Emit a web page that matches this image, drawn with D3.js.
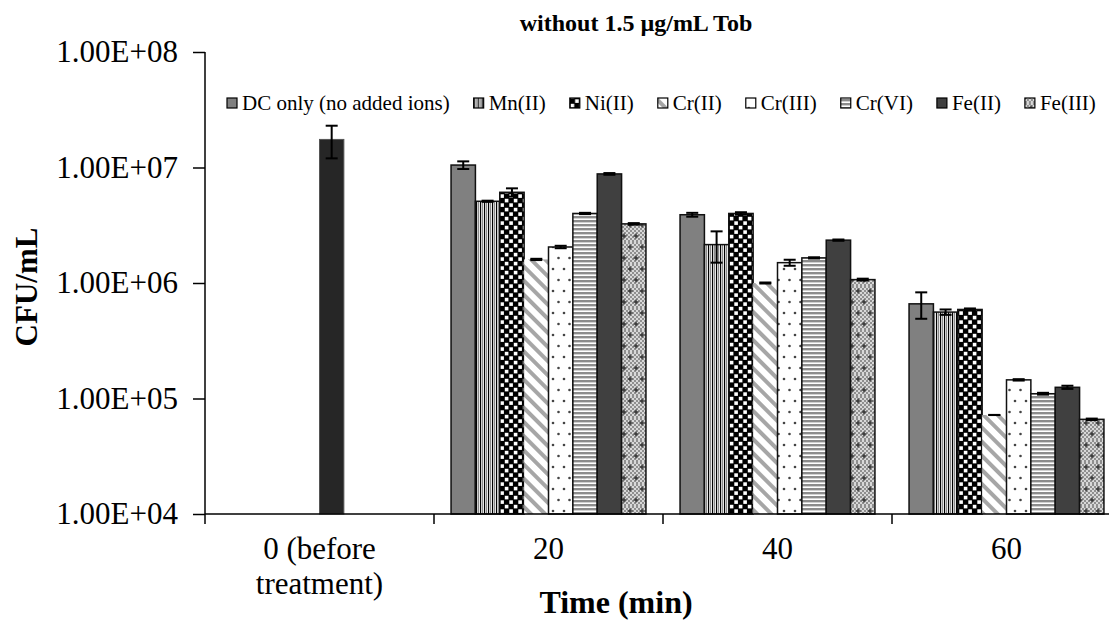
<!DOCTYPE html>
<html><head><meta charset="utf-8">
<script src="https://cdn.jsdelivr.net/npm/d3@7"></script>
<style>
html,body{margin:0;padding:0;background:#fff;}
svg{display:block;font-family:"Liberation Serif","Times New Roman",serif;}
</style></head>
<body>
<svg id="chart" width="1109" height="625"></svg>
<script>
// ---------- data ----------
const categories = ["0 (before treatment)", "20", "40", "60"];
const categoryLines = [["0 (before", "treatment)"], ["20"], ["40"], ["60"]];
const seriesNames = ["DC only (no added ions)", "Mn(II)", "Ni(II)", "Cr(II)", "Cr(III)", "Cr(VI)", "Fe(II)", "Fe(III)"];
// values for time points 20, 40, 60 min (group 0 has only the initial count)
const dcOnly  = [1.05e7, 3.9e6, 6.6e5];
const mnII    = [5.1e6, 2.15e6, 5.6e5];
const niII    = [6.1e6, 4.0e6, 5.9e5];
const crII    = [1.6e6, 1.0e6, 7.2e4];
const crIII   = [2.05e6, 1.5e6, 1.45e5];
const crVI    = [4.0e6, 1.65e6, 1.1e5];
const feII    = [8.8e6, 2.35e6, 1.25e5];
const feIII   = [3.25e6, 1.07e6, 6.6e4];
const dcOnlyErr = [0.08e7, 0.15e6, 1.7e5];
const mnIIErr   = [0.06e6, 0.65e6, 0.3e5];
const niIIErr   = [0.5e6, 0.1e6, 0.12e5];
const crIIErr   = [0.02e6, 0.01e6, 0.01e4];
const crIIIErr  = [0.05e6, 0.09e6, 0.02e5];
const crVIErr   = [0.05e6, 0.02e6, 0.02e5];
const feIIErr   = [0.15e6, 0.03e6, 0.04e5];
const feIIIErr  = [0.05e6, 0.02e6, 0.1e4];
const beforeValue = [1.75e7];
const beforeErr = [0.55e7];
const tickValues = [1e4, 1e5, 1e6, 1e7, 1e8];
const tickLabels = ["1.00E+04", "1.00E+05", "1.00E+06", "1.00E+07", "1.00E+08"];

const seriesValues = [dcOnly, mnII, niII, crII, crIII, crVI, feII, feIII];
const seriesErrs = [dcOnlyErr, mnIIErr, niIIErr, crIIErr, crIIIErr, crVIErr, feIIErr, feIIIErr];

// ---------- layout ----------
const svg = d3.select("#chart");
const plotLeft = 205, plotTop = 52, plotBottom = 514, catW = 229;
const x0 = d3.scaleBand().domain(categories).range([plotLeft, plotLeft + catW * categories.length]).paddingInner(0).paddingOuter(0);
const x1 = d3.scaleBand().domain(seriesNames).range([0, x0.bandwidth()]).paddingOuter(0.7).paddingInner(0);
const y = d3.scaleLog().domain([1e4, 1e8]).range([plotBottom, plotTop]);

// ---------- patterns ----------
const defs = svg.append("defs");
function pat(id, w, h, attrs) {
  const p = defs.append("pattern").attr("id", id).attr("patternUnits", "userSpaceOnUse")
    .attr("width", w).attr("height", h);
  if (attrs) Object.entries(attrs).forEach(([k, v]) => p.attr(k, v));
  return p;
}
let p = pat("pMn", 4, 4);
p.append("rect").attr("width", 4).attr("height", 4).attr("fill", "#fff");
p.append("rect").attr("x", 0).attr("width", 1.2).attr("height", 4).attr("fill", "#000");
p.append("rect").attr("x", 2).attr("width", 1.2).attr("height", 4).attr("fill", "#8a8a8a");
p = pat("pNi", 9, 9);
p.append("rect").attr("width", 9).attr("height", 9).attr("fill", "#000");
p.append("rect").attr("x", 0.8).attr("y", 0.8).attr("width", 3.6).attr("height", 3.6).attr("fill", "#fff");
p.append("rect").attr("x", 5.3).attr("y", 5.3).attr("width", 3.6).attr("height", 3.6).attr("fill", "#fff");
p = pat("pCr2", 10, 10, {patternTransform: "rotate(-45)"});
p.append("rect").attr("width", 10).attr("height", 10).attr("fill", "#fff");
p.append("rect").attr("x", 0).attr("width", 4).attr("height", 10).attr("fill", "#a6a6a6");
p = pat("pCr3", 11, 22);
p.append("rect").attr("width", 11).attr("height", 22).attr("fill", "#fff");
p.append("circle").attr("cx", 3).attr("cy", 5).attr("r", 1.3).attr("fill", "#444");
p.append("circle").attr("cx", 8.5).attr("cy", 16).attr("r", 1.3).attr("fill", "#444");
p = pat("pCr6", 4, 4);
p.append("rect").attr("width", 4).attr("height", 4).attr("fill", "#fff");
p.append("rect").attr("y", 0).attr("width", 4).attr("height", 2.4).attr("fill", "#8c8c8c");
p = pat("pFe3", 12, 22);
p.append("rect").attr("width", 12).attr("height", 22).attr("fill", "#d8d8d8");
for (let i = 0; i < 6; i++) for (let j = 0; j < 11; j++) {
  if ((i + j) % 2 === 0) p.append("rect").attr("x", i * 2).attr("y", j * 2).attr("width", 2).attr("height", 2).attr("fill", "#8f8f8f");
}
[[6, 5], [0, 16], [12, 16]].forEach(([cx, cy]) => {
  p.append("rect").attr("x", cx - 2.5).attr("y", cy - 0.7).attr("width", 5).attr("height", 1.4).attr("fill", "#333");
  p.append("rect").attr("x", cx - 0.7).attr("y", cy - 2.5).attr("width", 1.4).attr("height", 5).attr("fill", "#333");
});

const fills = ["#808080", "url(#pMn)", "url(#pNi)", "url(#pCr2)", "url(#pCr3)", "url(#pCr6)", "#404040", "url(#pFe3)"];
const strokes = ["#111", "#111", "#111", "none", "#111", "#111", "#111", "#111"];

// ---------- title ----------
svg.append("text").attr("x", 636).attr("y", 31).attr("text-anchor", "middle")
  .attr("font-weight", "bold").attr("font-size", 24).text("without 1.5 µg/mL Tob");

// ---------- bars ----------
const barData = [];
seriesNames.forEach((s, si) => {
  seriesValues[si].forEach((v, ti) => {
    barData.push({cat: categories[ti + 1], s, si, v, e: seriesErrs[si][ti]});
  });
});
const bw = x1.bandwidth();
const gBars = svg.append("g");
gBars.selectAll("rect.bar").data(barData).enter().append("rect").attr("class", "bar")
  .attr("x", d => x0(d.cat) + x1(d.s))
  .attr("y", d => y(d.v))
  .attr("width", bw)
  .attr("height", d => y(1e4) - y(d.v))
  .attr("fill", d => fills[d.si])
  .attr("stroke", d => strokes[d.si])
  .attr("stroke-width", 1.5);
gBars.selectAll("rect.before").data(beforeValue).enter().append("rect").attr("class", "before")
  .attr("x", x0(categories[0]) + x1(seriesNames[4]))
  .attr("y", d => y(d)).attr("width", bw).attr("height", d => y(1e4) - y(d))
  .attr("fill", "#262626").attr("stroke", "#555").attr("stroke-width", 1);

// ---------- error bars ----------
const errData = barData.map(d => ({cx: x0(d.cat) + x1(d.s) + bw / 2, v: d.v, e: d.e}))
  .concat(beforeValue.map((v, i) => ({cx: x0(categories[0]) + x1(seriesNames[4]) + bw / 2, v, e: beforeErr[i]})));
const gErr = svg.append("g").attr("stroke", "#000").attr("stroke-width", 2);
errData.forEach(d => {
  const yt = y(d.v + d.e), yb = y(d.v - d.e);
  gErr.append("line").attr("x1", d.cx).attr("x2", d.cx).attr("y1", yt).attr("y2", yb);
  gErr.append("line").attr("x1", d.cx - 6).attr("x2", d.cx + 6).attr("y1", yt).attr("y2", yt);
  gErr.append("line").attr("x1", d.cx - 6).attr("x2", d.cx + 6).attr("y1", yb).attr("y2", yb);
});

// ---------- axes ----------
const yAxis = d3.axisLeft(y).tickValues(tickValues).tickFormat((d, i) => tickLabels[i]).tickSize(12).tickPadding(15);
const gy = svg.append("g").attr("transform", `translate(${plotLeft},0)`).call(yAxis);
gy.select(".domain").attr("stroke", "#000").attr("stroke-width", 1.5).attr("d", `M0,${plotTop}V${plotBottom}`);
gy.selectAll(".tick line").attr("stroke", "#000").attr("stroke-width", 1.5);
gy.selectAll(".tick text").attr("font-family", "Liberation Serif").attr("font-size", 31).attr("fill", "#000");

const gx = svg.append("g").attr("transform", `translate(0,${plotBottom})`);
gx.append("line").attr("x1", plotLeft).attr("x2", 1109).attr("stroke", "#000").attr("stroke-width", 1.5);
const boundaries = categories.map(c => x0(c));
gx.selectAll("line.tk").data(boundaries).enter().append("line").attr("class", "tk")
  .attr("x1", d => d).attr("x2", d => d).attr("y1", 0).attr("y2", 10)
  .attr("stroke", "#000").attr("stroke-width", 1.5);
categories.forEach((c, i) => {
  const t = gx.append("text").attr("text-anchor", "middle").attr("font-size", 31)
    .attr("x", x0(c) + x0.bandwidth() / 2).attr("y", 45);
  categoryLines[i].forEach((ln, k) => {
    t.append("tspan").attr("x", x0(c) + x0.bandwidth() / 2).attr("dy", k === 0 ? 0 : 35).text(ln);
  });
});

svg.append("text").attr("x", 616).attr("y", 613).attr("text-anchor", "middle")
  .attr("font-weight", "bold").attr("font-size", 32).text("Time (min)");
svg.append("text").attr("transform", "translate(37,287) rotate(-90)").attr("text-anchor", "middle")
  .attr("font-weight", "bold").attr("font-size", 31).text("CFU/mL");

// ---------- legend ----------
const gLeg = svg.append("g").attr("font-size", 21);
let lx = 227;
seriesNames.forEach((s, i) => {
  const g = gLeg.append("g").attr("transform", `translate(${lx},103)`);
  g.append("rect").attr("x", 0).attr("y", -5).attr("width", 10).attr("height", 10)
    .attr("fill", fills[i]).attr("stroke", "#000").attr("stroke-width", 1.2);
  const t = g.append("text").attr("x", 15).attr("y", 7).text(s);
  lx += 15 + t.node().getComputedTextLength() + 24;
});
</script>
</body></html>
